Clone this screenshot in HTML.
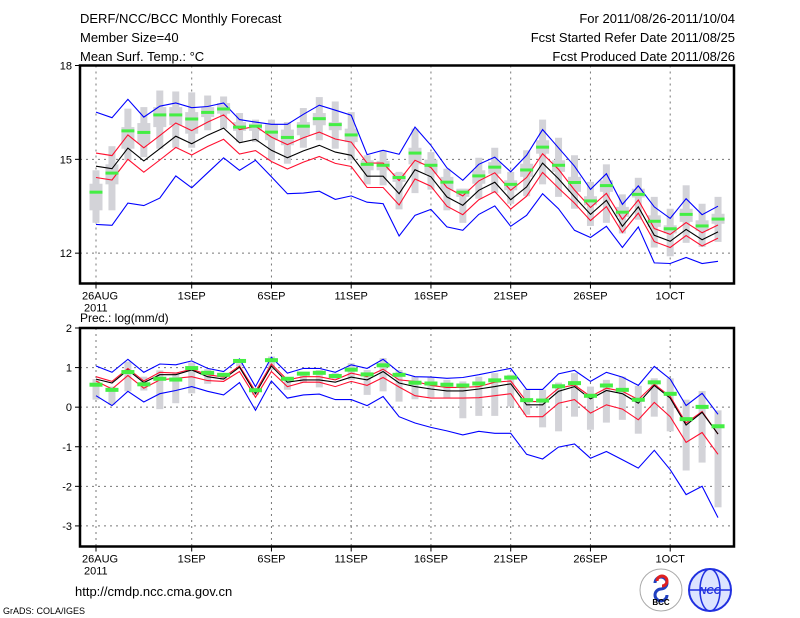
<!DOCTYPE html>
<html><head><meta charset="utf-8">
<style>
body{margin:0;background:#fff;}
#wrap{position:relative;width:800px;height:618px;overflow:hidden;background:#fff;font-family:"Liberation Sans",sans-serif;}
svg text{font-family:"Liberation Sans",sans-serif;fill:#000;}
</style></head>
<body>
<div id="wrap">
<svg id="chart" width="800" height="618" viewBox="0 0 800 618">
  <g font-size="13">
    <text x="80" y="23">DERF/NCC/BCC Monthly Forecast</text>
    <text x="80" y="42">Member Size=40</text>
    <text x="80" y="61">Mean Surf. Temp.: °C</text>
  </g>
  <g font-size="13" text-anchor="end">
    <text x="735" y="23">For 2011/08/26-2011/10/04</text>
    <text x="735" y="42">Fcst Started Refer Date 2011/08/25</text>
    <text x="735" y="61">Fcst Produced Date 2011/08/26</text>
  </g>
  <text x="80" y="322" font-size="12">Prec.: log(mm/d)</text>
  <g id="top"></g>
  <g id="bot"></g>
  <text x="75" y="596" font-size="13">http://cmdp.ncc.cma.gov.cn</text>
  <text x="3" y="614" font-size="9">GrADS: COLA/IGES</text>
  <g>
    <circle cx="661" cy="590" r="21" fill="#fff" stroke="#aaa" stroke-width="1"/>
    <path d="M655 583 a6 6 0 1 1 6 6 a6 6 0 1 0 6 6" fill="none" stroke="#2040c0" stroke-width="3"/>
    <path d="M657 581 a5 5 0 1 1 5 5" fill="none" stroke="#e02020" stroke-width="3"/>
    <text x="661" y="605" font-size="8" text-anchor="middle" font-weight="bold">BCC</text>
  </g>
  <g>
    <circle cx="710" cy="590" r="21" fill="#dde4ff" stroke="#2030e0" stroke-width="2"/>
    <ellipse cx="710" cy="590" rx="10" ry="21" fill="none" stroke="#2030e0" stroke-width="1.5"/>
    <line x1="689" y1="590" x2="731" y2="590" stroke="#2030e0" stroke-width="1.5"/>
    <text x="710" y="594" font-size="10" text-anchor="middle" font-style="italic" font-weight="bold" style="fill:#2030e0">NCC</text>
  </g>
</svg>
</div>
<script>
// ---- temperature data ----
const tMaxBlue=[16.51,16.33,16.92,16.35,16.70,16.80,16.65,16.69,16.80,16.27,16.19,16.12,16.12,16.44,16.73,16.57,16.41,15.15,15.29,15.16,16.03,15.45,14.73,14.33,14.84,15.07,14.60,15.13,15.95,15.37,14.78,14.04,14.54,13.56,14.15,13.48,13.11,13.74,13.23,13.50];
const tMinBlue=[12.92,12.89,13.60,13.52,13.76,14.47,14.09,14.57,15.05,14.65,14.97,14.44,13.90,13.92,13.98,13.72,13.83,13.63,13.58,12.55,13.21,13.40,12.84,12.73,13.24,13.51,12.86,13.21,13.90,13.42,12.73,12.50,12.86,12.18,12.84,11.69,11.67,11.86,11.67,11.74];
const tMean=[14.78,14.70,15.36,14.95,15.34,15.74,15.50,15.77,16.00,15.53,15.64,15.29,15.05,15.27,15.45,15.23,15.13,14.46,14.46,13.90,14.67,14.44,13.80,13.53,14.01,14.27,13.71,14.12,14.88,14.38,13.80,13.24,13.69,12.86,13.48,12.57,12.38,12.76,12.43,12.68];
const tUpper=[15.20,15.12,15.78,15.37,15.76,16.16,15.92,16.19,16.42,15.95,16.06,15.71,15.47,15.69,15.87,15.65,15.55,14.88,14.88,14.32,14.97,14.74,14.10,13.83,14.31,14.57,14.01,14.42,15.18,14.68,14.02,13.46,13.91,13.08,13.70,12.79,12.60,12.98,12.65,12.90];
const tLower=[14.42,14.34,15.00,14.59,14.98,15.38,15.14,15.41,15.64,15.17,15.28,14.93,14.69,14.91,15.09,14.87,14.77,14.10,14.10,13.54,14.37,14.14,13.50,13.23,13.71,13.97,13.41,13.82,14.58,14.08,13.60,13.04,13.49,12.66,13.28,12.37,12.18,12.56,12.23,12.48];
const tMedian=[13.95,14.56,15.91,15.86,16.42,16.42,16.29,16.50,16.61,16.03,16.06,15.87,15.70,16.06,16.30,16.11,15.78,14.84,14.81,14.42,15.20,14.81,14.27,13.95,14.47,14.75,14.20,14.66,15.39,14.81,14.26,13.67,14.16,13.31,13.88,13.02,12.78,13.24,12.87,13.09];
const tWhiskHi=[14.65,15.42,16.62,16.67,17.20,17.17,17.14,17.04,17.01,16.48,16.27,16.27,16.19,16.64,16.99,16.85,16.51,15.13,15.29,14.60,15.98,15.23,14.70,14.06,15.05,15.37,14.60,15.29,16.27,15.69,15.13,14.28,14.84,13.88,14.41,13.80,13.42,14.17,13.58,13.80];
const tWhiskLo=[12.97,13.37,14.97,15.07,15.34,15.37,15.37,15.93,15.98,15.55,15.55,14.97,14.86,15.37,15.61,15.34,14.97,14.20,14.17,13.40,13.92,14.03,13.37,12.97,13.74,13.92,13.58,13.82,14.20,13.80,13.42,12.87,12.97,12.63,13.07,12.18,11.90,12.33,12.20,12.36];
const tBoxHi=[14.22,14.84,16.03,16.16,16.67,16.67,16.51,16.67,16.80,16.19,16.14,16.12,15.95,16.19,16.48,16.19,15.98,14.97,14.95,14.56,15.37,14.99,14.44,14.06,14.65,14.91,14.33,14.86,15.61,14.97,14.44,13.82,14.33,13.48,14.06,13.21,12.89,13.42,13.05,13.26];
const tBoxLo=[13.37,14.20,15.34,15.50,16.03,16.09,15.82,16.35,16.46,15.91,15.91,15.61,15.45,15.77,16.09,15.93,15.55,14.65,14.65,14.28,14.84,14.54,14.01,13.80,14.22,14.54,14.01,14.44,15.18,14.60,13.96,13.53,13.96,13.16,13.78,12.84,12.63,13.00,12.71,12.94];
const tTicks=[18,15,12];
// ---- precipitation data ----
const pMaxBlue=[1.04,0.88,1.21,0.88,1.09,1.07,1.17,0.98,0.90,1.22,0.52,1.26,0.86,0.98,0.98,0.88,1.07,0.98,1.21,0.88,0.77,0.76,0.73,0.75,0.82,0.90,0.98,0.45,0.45,0.84,0.93,0.65,0.88,0.76,0.55,1.03,0.71,0.04,0.35,-0.18];
const pMinBlue=[0.29,0.04,0.40,0.13,0.34,0.42,0.52,0.40,0.31,0.62,-0.08,0.66,0.23,0.31,0.33,0.19,0.19,0.04,0.27,-0.24,-0.40,-0.51,-0.60,-0.70,-0.61,-0.66,-0.66,-1.19,-1.31,-1.01,-0.93,-1.29,-1.12,-1.33,-1.54,-1.09,-1.58,-2.21,-2.00,-2.79];
const pMean=[0.71,0.61,0.94,0.62,0.82,0.82,0.94,0.77,0.71,1.01,0.34,1.04,0.63,0.69,0.69,0.63,0.76,0.69,0.90,0.61,0.52,0.46,0.41,0.41,0.46,0.52,0.59,0.06,0.06,0.40,0.52,0.21,0.42,0.34,0.10,0.55,0.23,-0.45,-0.13,-0.68];
const pUpper=[0.77,0.65,0.98,0.66,0.88,0.86,0.96,0.82,0.76,1.04,0.40,1.09,0.69,0.77,0.77,0.69,0.86,0.77,0.96,0.69,0.65,0.55,0.50,0.50,0.52,0.63,0.66,0.14,0.14,0.48,0.56,0.27,0.48,0.40,0.19,0.58,0.27,-0.40,-0.11,-0.68];
const pLower=[0.66,0.46,0.80,0.48,0.69,0.73,0.77,0.67,0.65,0.90,0.25,0.90,0.52,0.63,0.63,0.52,0.65,0.55,0.75,0.51,0.29,0.23,0.23,0.23,0.24,0.29,0.34,-0.24,-0.24,0.10,0.19,-0.15,0.06,-0.05,-0.32,0.12,-0.24,-0.89,-0.64,-1.19];
const pMedian=[0.58,0.45,0.90,0.59,0.73,0.71,1.00,0.88,0.83,1.18,0.44,1.20,0.73,0.86,0.88,0.80,0.96,0.84,1.07,0.83,0.63,0.61,0.58,0.56,0.61,0.69,0.76,0.19,0.18,0.54,0.62,0.30,0.56,0.45,0.20,0.64,0.35,-0.29,0.02,-0.47];
const pWhiskHi=[0.71,0.52,1.15,0.77,0.93,0.88,1.13,0.96,0.86,1.11,0.48,1.28,0.76,0.86,0.94,0.86,1.11,0.94,1.24,0.94,0.77,0.76,0.69,0.65,0.77,0.86,0.82,0.45,0.44,0.62,0.86,0.52,0.69,0.77,0.54,0.73,0.73,0.19,0.41,-0.08];
const pWhiskLo=[0.19,0.06,0.40,0.42,-0.05,0.10,0.35,0.59,0.69,1.03,0.31,0.94,0.44,0.62,0.50,0.71,0.69,0.31,0.40,0.14,0.20,0.25,0.23,-0.28,-0.22,-0.22,0.02,-0.19,-0.51,-0.61,-0.24,-0.57,-0.39,-0.32,-0.67,-0.24,-0.61,-1.60,-1.40,-2.53];
const pTicks=[2,1,0,-1,-2,-3];
const dateLabels=['26AUG','1SEP','6SEP','11SEP','16SEP','21SEP','26SEP','1OCT'];
const dateIdx=[0,6,11,16,21,26,31,36];

const NS='http://www.w3.org/2000/svg';
const X0=96, DX=15.95, FL=80, FR=734;
function xs(i){return X0+DX*i;}
function mk(tag,attrs,parent){const e=document.createElementNS(NS,tag);for(const k in attrs)e.setAttribute(k,attrs[k]);parent.appendChild(e);return e;}

function panel(g,top,bot,vmax,vmin,ticks,series,gridTicks,name){
  const ys=v=>top+(vmax-v)/(vmax-vmin)*(bot-top);
  // grid
  dateIdx.forEach((d,k)=>{
    const l=mk('line',{x1:xs(d),x2:xs(d),y1:top,y2:bot,stroke:'#777','stroke-dasharray':'2,4','stroke-width':1},g);
    
    
    const t=mk('line',{x1:xs(d),x2:xs(d),y1:bot,y2:bot+5,stroke:'#000'},g);
    
    
    const tx=mk('text',{x:xs(d),y:bot+16,'font-size':11,'text-anchor':k==0?'start':'middle'},g);
    if(k==0)tx.setAttribute('x',xs(d)-14);
    tx.textContent=dateLabels[k];
    
    
  });
  const yr=mk('text',{x:xs(0)-12,y:bot+28,'font-size':11},g);
  yr.textContent='2011';
  
  
  ticks.forEach(v=>{
    if(gridTicks.includes(v)){
      const l=mk('line',{x1:FL,x2:FR,y1:ys(v),y2:ys(v),stroke:'#777','stroke-dasharray':'2,4'},g);
      
      
    }
    const t=mk('line',{x1:FL-5,x2:FL,y1:ys(v),y2:ys(v),stroke:'#000'},g);
    
    
    const tx=mk('text',{x:FL-8,y:ys(v)+4,'font-size':11,'text-anchor':'end'},g);
    tx.textContent=v;
    
    
  });
  // boxes
  series.wHi.forEach((h,i)=>{
    const r=mk('rect',{x:xs(i)-3.5,y:ys(h),width:7,height:ys(series.wLo[i])-ys(h),fill:'#d3d3d8'},g);
    
    
    if(series.bHi){
      const b=mk('rect',{x:xs(i)-6.5,y:ys(series.bHi[i]),width:13,height:ys(series.bLo[i])-ys(series.bHi[i]),fill:'#d3d3d8'},g);
      
      
    }
  });
  // lines
  const lines=[[series.maxB,'#0000ff','max'],[series.minB,'#0000ff','min'],[series.up,'#ff1030','upper'],[series.lo,'#ff1030','lower'],[series.mean,'#000','mean']];
  lines.forEach(([arr,c,n])=>{
    const p=mk('polyline',{points:arr.map((v,i)=>xs(i).toFixed(1)+','+ys(v).toFixed(1)).join(' '),fill:'none',stroke:c,'stroke-width':1.1},g);
    
    
  });
  series.med.forEach((v,i)=>{
    const m=mk('rect',{x:xs(i)-6.5,y:ys(v)-1.5,width:13,height:series.mh,fill:'#44ee44'},g);
    
    
  });
  const f=mk('rect',{x:FL,y:top,width:FR-FL,height:bot-top,fill:'none',stroke:'#000','stroke-width':2.5},g);
  
  
}
panel(document.getElementById('top'),65.5,283.5,18,11.03,tTicks,{wHi:tWhiskHi,wLo:tWhiskLo,bHi:tBoxHi,bLo:tBoxLo,maxB:tMaxBlue,minB:tMinBlue,up:tUpper,lo:tLower,mean:tMean,med:tMedian,mh:3},[15,12],'temp');
panel(document.getElementById('bot'),328,546.5,2,-3.52,pTicks,{wHi:pWhiskHi,wLo:pWhiskLo,maxB:pMaxBlue,minB:pMinBlue,up:pUpper,lo:pLower,mean:pMean,med:pMedian,mh:4},[1,0,-1,-2,-3],'prec');
</script>
</body></html>
